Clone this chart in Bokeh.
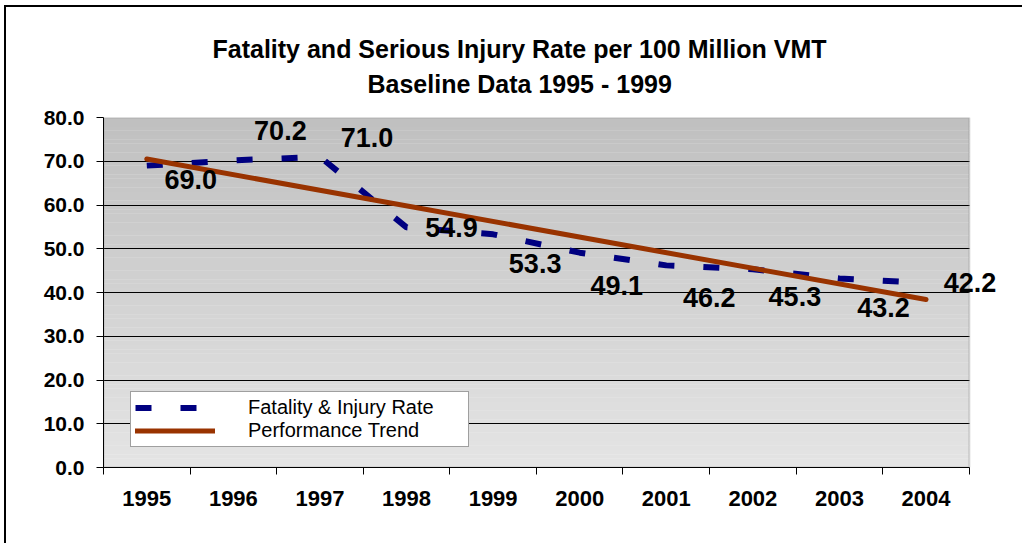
from bokeh.plotting import figure
from bokeh.models import (ColumnDataSource, Range1d, FixedTicker, NumeralTickFormatter,
                          LabelSet, Title, BoxAnnotation)
from bokeh.core.properties import value
from bokeh.embed import file_html
from bokeh.resources import INLINE

# ---- data ----
years = [1995, 1996, 1997, 1998, 1999, 2000, 2001, 2002, 2003, 2004]
rate = [69.0, 70.2, 71.0, 54.9, 53.3, 49.1, 46.2, 45.3, 43.2, 42.2]
rate_text = ["69.0", "70.2", "71.0", "54.9", "53.3", "49.1", "46.2", "45.3", "43.2", "42.2"]
trend_years = [1995, 2004]
trend_values = [70.5, 38.4]
y_ticks = [0, 10, 20, 30, 40, 50, 60, 70, 80]

# label placement (screen px) - styling only
label_dx = [44, 47, 47, 45, 42, 37, 43, 42, 44, 44]
label_dy = [-14, 30, 19, 0, -29, -33, -32, -27, -29, 0]

FONT = "Liberation Sans"
X0, X1 = 1994.5, 2004.5
X_END = 2004.86  # extra room at right for the last label

p = figure(width=1018, height=538,
           x_range=Range1d(X0, X_END), y_range=Range1d(0, 80),
           output_backend="svg", toolbar_location=None,
           min_border_left=97, min_border_right=24,
           min_border_top=110, min_border_bottom=78,
           background_fill_color="white", border_fill_color="white")
p.styles = {"border-left": "2px solid black", "border-top": "2px solid black",
            "margin-left": "4px", "margin-top": "5px"}
p.outline_line_color = None

# gradient background (style only)
n = 80
tops, bottoms, cols = [], [], []
for k in range(n):
    t = k / (n - 1)
    c = int(round(228 - (228 - 192) * t))
    bottoms.append(80 * k / n)
    tops.append(min(80, 80 * (k + 1) / n + 0.05))
    cols.append("#%02x%02x%02x" % (c, c, c))
p.quad(left=X0, right=X1, bottom=bottoms, top=tops, fill_color=cols,
       line_color=None, level="image")

# plot-area border
p.add_layout(BoxAnnotation(left=X0, right=X1, bottom=0, top=80, fill_color=None,
                           line_color="#808080", line_width=2, level="underlay"))

# grid
p.xgrid.grid_line_color = None
yg = p.ygrid[0]
yg.ticker = FixedTicker(ticks=[10, 20, 30, 40, 50, 60, 70])
yg.grid_line_color = "black"
yg.grid_line_width = 1
if "cross_bounds" in yg.properties():
    yg.cross_bounds = (X0, X1)
else:
    p.quad(left=X1 + 0.012, right=X_END, bottom=0, top=80, fill_color="white",
           line_color=None)

# y axis
yax = p.left[0]
yax.ticker = FixedTicker(ticks=y_ticks)
yax.formatter = NumeralTickFormatter(format="0.0")
yax.major_tick_in = 0
yax.major_tick_out = 7
yax.minor_tick_line_color = None
yax.axis_line_color = "black"
yax.major_tick_line_color = "black"
yax.major_label_text_font = FONT
yax.major_label_text_font_size = "21px"
yax.major_label_text_font_style = "bold"
yax.major_label_text_color = "black"
yax.major_label_standoff = 12

# x axis
xax = p.below[0]
xax.bounds = (X0, X1)
xax.ticker = FixedTicker(ticks=years, minor_ticks=[y - 0.5 for y in years] + [years[-1] + 0.5])
xax.formatter = NumeralTickFormatter(format="0")
xax.major_tick_line_color = None
xax.minor_tick_line_color = "black"
xax.minor_tick_in = 0
xax.minor_tick_out = 7
xax.axis_line_color = "black"
xax.major_label_text_font = FONT
xax.major_label_text_font_size = "22px"
xax.major_label_text_font_style = "bold"
xax.major_label_text_color = "black"
xax.major_label_standoff = 16

# blank spacer between frame and titles
p.add_layout(Title(text=" ", text_font=FONT, text_font_size="10px", standoff=5,
                   text_color="white"), "above")

# titles (added inner first)
p.add_layout(Title(text="Baseline Data 1995 - 1999", text_font=FONT, text_font_size="25px",
                   text_font_style="bold", text_color="black", align="left", offset=264,
                   standoff=4), "above")
p.add_layout(Title(text="Fatality and Serious Injury Rate per 100 Million VMT", text_font=FONT,
                   text_font_size="25px", text_font_style="bold", text_color="black",
                   align="left", offset=109, standoff=6), "above")

# series
r1 = p.line(years, rate, line_color="#000080", line_width=6, line_dash="16 29",
            legend_label="Fatality & Injury Rate")
r2 = p.line(trend_years, trend_values, line_color="#993300", line_width=5,
            line_cap="round", legend_label="Performance Trend")

src = ColumnDataSource(dict(x=years, y=rate, text=rate_text, dx=label_dx, dy=label_dy))
p.add_layout(LabelSet(x="x", y="y", text="text", source=src, x_offset="dx", y_offset="dy",
                      text_align="center", text_baseline="middle", text_font=value(FONT),
                      text_font_size=value("27px"), text_font_style="bold",
                      text_color="black"))

lg = p.legend[0]
lg.location = (27, 20)
lg.padding = 4
lg.margin = 0
lg.spacing = 0
lg.glyph_width = 80
lg.glyph_height = 21
lg.label_height = 21
lg.label_width = 216
lg.label_standoff = 33
lg.label_text_font = FONT
lg.label_text_font_size = "20px"
lg.label_text_color = "black"
lg.border_line_color = "#404040"
lg.border_line_width = 1
lg.background_fill_color = "white"
lg.background_fill_alpha = 1

open("out.html", "w").write(file_html(p, INLINE))
